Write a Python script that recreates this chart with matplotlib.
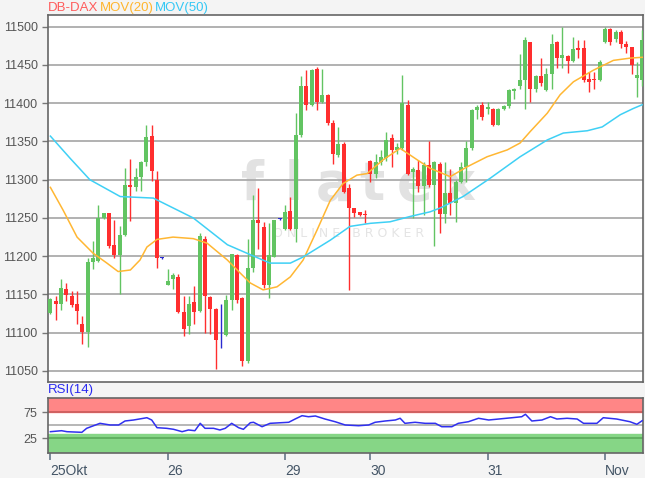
import matplotlib.pyplot as plt

# hourly candles
opens = [11126, 11141, 11138, 11157, 11148, 11137, 11112, 11101, 11193, 11194,
         11250, 11257, 11215, 11202, 11228, 11293, 11291, 11304, 11323, 11357,
         11300, 11198, 11163, 11170, 11173, 11127, 11109, 11140, 11128, 11223,
         11147, 11131, 11090, 11097, 11143, 11202, 11145, 11063, 11184, 11247,
         11238, 11162, 11199, 11249, 11236, 11259, 11236, 11358, 11422, 11398,
         11445, 11402, 11411, 11374, 11332, 11347, 11289, 11263, 11258, 11255,
         11324, 11307, 11323, 11329, 11354, 11339, 11341, 11398, 11310, 11313,
         11292, 11319, 11293, 11320, 11255, 11282, 11269, 11297, 11317, 11341,
         11391, 11398, 11392, 11393, 11372, 11392, 11397, 11416, 11422, 11430,
         11480, 11418, 11435, 11417, 11438, 11480, 11459, 11462, 11455, 11472,
         11472, 11432, 11432, 11430, 11480, 11497, 11484, 11493, 11477, 11474,
         11433, 11430]
closes = [11144, 11138, 11159, 11149, 11136, 11128, 11101, 11193, 11198, 11250,
          11256, 11213, 11202, 11228, 11293, 11290, 11304, 11323, 11356, 11311,
          11198, 11198, 11167, 11175, 11127, 11105, 11138, 11127, 11226, 11148,
          11131, 11090, 11090, 11143, 11203, 11143, 11063, 11185, 11247, 11243,
          11162, 11201, 11247, 11249, 11258, 11236, 11358, 11422, 11398, 11443,
          11402, 11411, 11374, 11333, 11347, 11284, 11263, 11256, 11254, 11254,
          11307, 11323, 11330, 11352, 11339, 11343, 11400, 11307, 11314, 11292,
          11319, 11293, 11323, 11255, 11282, 11269, 11297, 11317, 11342, 11391,
          11395, 11382, 11395, 11372, 11392, 11397, 11417, 11419, 11430, 11483,
          11418, 11436, 11426, 11438, 11478, 11459, 11463, 11455, 11471, 11469,
          11430, 11428, 11430, 11454, 11497, 11480, 11493, 11477, 11474, 11450,
          11437, 11483]
highs = [11146, 11148, 11170, 11165, 11154, 11154, 11122, 11198, 11220, 11267,
         11257, 11257, 11248, 11239, 11315, 11327, 11315, 11324, 11372, 11372,
         11311, 11199, 11183, 11178, 11177, 11148, 11148, 11161, 11231, 11226,
         11148, 11132, 11137, 11149, 11203, 11203, 11147, 11223, 11280, 11289,
         11245, 11243, 11248, 11250, 11267, 11278, 11387, 11435, 11443, 11445,
         11447, 11445, 11412, 11378, 11369, 11349, 11295, 11263, 11258, 11260,
         11326, 11333, 11339, 11362, 11360, 11348, 11437, 11404, 11316, 11326,
         11323, 11350, 11325, 11323, 11323, 11314, 11299, 11323, 11350, 11392,
         11398, 11401, 11401, 11394, 11394, 11398, 11419, 11420, 11464, 11486,
         11480, 11437, 11459, 11446, 11491, 11481, 11499, 11463, 11486, 11482,
         11482, 11441, 11441, 11456, 11499, 11498, 11496, 11496, 11481, 11474,
         11454, 11496]
lows = [11124, 11117, 11130, 11141, 11133, 11112, 11085, 11082, 11183, 11193,
        11249, 11211, 11198, 11151, 11226, 11246, 11285, 11285, 11318, 11298,
        11185, 11197, 11163, 11157, 11126, 11096, 11098, 11112, 11127, 11100,
        11098, 11053, 11080, 11096, 11130, 11139, 11057, 11061, 11180, 11210,
        11158, 11145, 11199, 11248, 11234, 11234, 11219, 11356, 11391, 11397,
        11391, 11400, 11372, 11321, 11330, 11282, 11156, 11251, 11252, 11243,
        11297, 11302, 11319, 11324, 11317, 11333, 11339, 11306, 11250, 11284,
        11254, 11291, 11214, 11231, 11243, 11254, 11245, 11296, 11297, 11339,
        11380, 11378, 11386, 11370, 11371, 11391, 11394, 11405, 11418, 11393,
        11401, 11415, 11422, 11416, 11418, 11446, 11446, 11439, 11454, 11459,
        11428, 11415, 11419, 11429, 11479, 11476, 11480, 11472, 11466, 11438,
        11408, 11422]

# moving averages, read at a few candles
ma20_x = [0, 2.4, 5, 8, 10.6, 12.7, 15, 16.8, 18.1, 20, 23, 26.8, 29.4, 33.2,
          35.6, 37.5, 39.9, 42.5, 45, 47.4, 50, 52.5, 54.9, 57.5, 59.4, 62.4,
          65.6, 68.8, 71.2, 75, 78.2, 81.9, 85.7, 88.1, 90, 93.2, 95.6, 98.1,
          101.8, 105.6, 108.8, 111]
ma20_y = [11290, 11260, 11225, 11204, 11191, 11180, 11182, 11195, 11212, 11222,
          11225, 11223, 11217, 11195, 11178, 11165, 11156, 11160, 11173, 11195,
          11234, 11273, 11295, 11306, 11308, 11326, 11341, 11326, 11315, 11304,
          11317, 11330, 11339, 11348, 11363, 11387, 11411, 11428, 11443, 11456,
          11459, 11460]
ma50_x = [0, 3.7, 7.4, 13.1, 19.3, 26.8, 33.2, 37.5, 41.2, 45, 47.4, 52.5, 56.2,
          60, 63.7, 67.5, 71.2, 73.1, 77.4, 82.5, 88.1, 93.2, 96.2, 100.7, 103.5,
          106.9, 109.3, 111]
ma50_y = [11357, 11328, 11300, 11278, 11276, 11250, 11215, 11202, 11191, 11191,
          11199, 11221, 11239, 11243, 11245, 11252, 11258, 11263, 11278, 11302,
          11330, 11352, 11361, 11364, 11369, 11385, 11393, 11398]

rsi_x = [0, 2.1, 3.1, 5.9, 6.8, 9.3, 11.2, 12.8, 14, 15.6, 18.1, 19, 20, 21.8,
         23.1, 24.7, 25.9, 27.1, 28.1, 29, 30.6, 31.8, 32.8, 34, 35.3, 36.2,
         37.5, 38.1, 39.7, 41.2, 44.7, 45.9, 47.2, 48.4, 49.7, 51.5, 53.4, 55.3,
         57.8, 59.7, 60.9, 62.8, 64.7, 65.6, 66.5, 68.4, 70.3, 72.2, 73.4, 75.3,
         76.5, 78.4, 80.3, 82.2, 84.1, 86.6, 88.4, 89.1, 90.3, 92.2, 93.8, 95,
         96.9, 98.8, 100, 102.5, 103.7, 106.2, 108.7, 110, 111]
rsi_y = [37.7, 39.6, 37.7, 36.5, 44.2, 53.8, 50.6, 50.6, 58.3, 60.2, 64.6, 60.2,
         45.4, 44.2, 42.3, 37.7, 41, 39.6, 53.8, 44.2, 44.2, 41, 44.2, 53.8, 45.4,
         42.3, 55, 55.8, 47.3, 53.8, 55.8, 62.1, 68.5, 66.5, 67.9, 62.1, 56.9,
         50.6, 49.2, 50.6, 55.8, 58.3, 60.2, 63.5, 53.8, 55.8, 53.8, 53.8, 47.3,
         47.3, 53.8, 56.9, 63.5, 60.2, 62.1, 64.6, 66.5, 71.2, 58.3, 60.2, 66.5,
         62.1, 63.5, 62.1, 53.8, 53.8, 64.6, 62.1, 56.9, 51.9, 58.9]

tick_pos = [0, 22, 44, 60, 82, 104]
tick_labels = ['25Okt', '26', '29', '30', '31', 'Nov']

plt.rcParams['font.family'] = ['Liberation Sans', 'DejaVu Sans']

fig = plt.figure(figsize=(6.45, 4.78), dpi=100, facecolor='#f4f4f4')
ax = fig.add_axes([48 / 645, 96 / 478, 595 / 645, 367 / 478])
ax2 = fig.add_axes([48 / 645, 25 / 478, 595 / 645, 55.5 / 478])

green = '#62c462'
red = '#ff2e2e'
blue = '#2a2ad0'
cols = []
for o, c in zip(opens, closes):
    if c > o:
        cols.append(green)
    elif c < o:
        cols.append(red)
    else:
        cols.append(blue)

idx = list(range(len(opens)))
ax.vlines(idx, lows, highs, colors=cols, linewidth=1.0, zorder=3)
bottoms = [min(o, c) for o, c in zip(opens, closes)]
heights = [max(abs(c - o), 0.8) for o, c in zip(opens, closes)]
ax.bar(idx, heights, bottom=bottoms, width=0.74, color=cols, zorder=4)

ax.plot(ma20_x, ma20_y, color='#ffb733', lw=1.1, zorder=5)
ax.plot(ma50_x, ma50_y, color='#3fd0f5', lw=1.1, zorder=5)

# watermark
for ch, xf in zip('flatex', [0.343, 0.412, 0.479, 0.545, 0.617, 0.689]):
    ax.text(xf, 0.497, ch, transform=ax.transAxes, fontsize=38, color='#e2e2e2',
            ha='center', va='baseline', family='DejaVu Sans', weight='bold',
            zorder=1)
ax.text(0.505, 0.405, 'O N L I N E   B R O K E R', transform=ax.transAxes,
        fontsize=9, color='#e4e4e4', ha='center', va='center',
        family='DejaVu Sans', zorder=1)

ax.set_xlim(-0.45, 111.15)
ax.set_ylim(11035.6, 11515.3)
ax.set_yticks(range(11050, 11501, 50))
for v in range(11050, 11501, 50):
    ax.axhline(v, color='#ababab', lw=1.3, zorder=2)
ax.set_xticks([])
ax.tick_params(axis='y', labelsize=9, labelcolor='#555555', color='#777777',
               length=4, width=1)
for s in ax.spines.values():
    s.set_color('#666666')
    s.set_linewidth(1.2)
ax.set_facecolor('white')

# RSI panel
ax2.set_facecolor('white')
ax2.axhspan(75, 110, color='#ff8686', zorder=1)
ax2.axhspan(-10, 33, color='#86d686', zorder=1)
ax2.axhline(75, color='#c85a5a', lw=1.2, zorder=2)
ax2.axhline(50, color='#aaaaaa', lw=1.2, zorder=2)
ax2.axhline(25, color='#5aaa5a', lw=1.2, zorder=2)
ax2.plot(rsi_x, rsi_y, color='#3030f0', lw=1.1, zorder=3)
ax2.set_xlim(-0.45, 111.15)
ax2.set_ylim(-3.3, 103.5)
ax2.set_yticks([25, 75])
ax2.set_xticks(tick_pos)
ax2.set_xticklabels(tick_labels, ha='left')
ax2.tick_params(axis='y', labelsize=9, labelcolor='#555555', color='#777777',
                length=4, width=1)
ax2.tick_params(axis='x', labelsize=10, labelcolor='#445566', color='#667788',
                length=5, width=1.2, pad=3)
for s in ax2.spines.values():
    s.set_color('#666666')
    s.set_linewidth(1.2)

fig.text(48 / 645, 1 - 8 / 478, 'DB-DAX', color='#ff5c5c', fontsize=9.5, va='center')
fig.text(100 / 645, 1 - 8 / 478, 'MOV(20)', color='#ffb52e', fontsize=9.5, va='center')
fig.text(155 / 645, 1 - 8 / 478, 'MOV(50)', color='#35c8f5', fontsize=9.5, va='center')
fig.text(48 / 645, 1 - 390 / 478, 'RSI(14)', color='#2a2af0', fontsize=9.5, va='center')

plt.savefig('out.png', dpi=100, facecolor=fig.get_facecolor())
